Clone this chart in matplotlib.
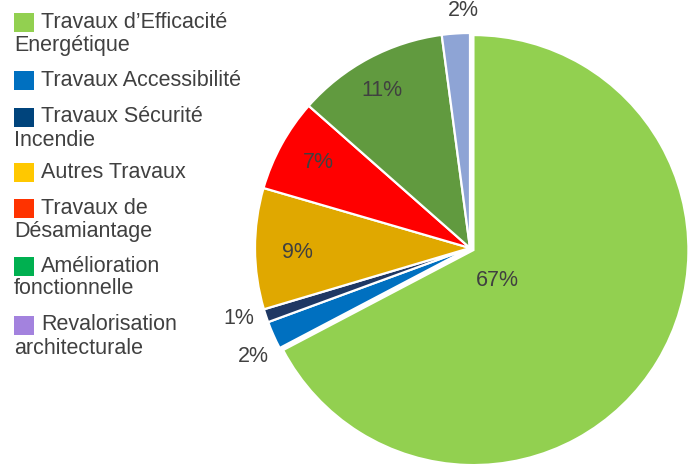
import matplotlib
matplotlib.use("Agg")
import matplotlib.pyplot as plt
from matplotlib.patches import Rectangle
import numpy as np

# ---- data ----
categories = ["Travaux d\u2019Efficacit\u00e9\nEnerg\u00e9tique", "Travaux Accessibilit\u00e9",
              "Travaux S\u00e9curit\u00e9\nIncendie", "Autres Travaux",
              "Travaux de\nD\u00e9samiantage", "Am\u00e9lioration\nfonctionnelle",
              "Revalorisation\narchitecturale"]
values = [67.3, 2.1, 1.0, 9.1, 7.0, 11.4, 2.1]
slice_colors = ["#92D050", "#0070C0", "#1F3864", "#E0A800", "#FF0000", "#619A3F", "#8EA4D5"]
legend_colors = ["#92D050", "#0070C0", "#00447C", "#FFC800", "#FF3300", "#00B050", "#A382DE"]

W, H = 688, 466
fig = plt.figure(figsize=(W / 100, H / 100), dpi=100)
ax = fig.add_axes([0, 0, 1, 1])

plt.rcParams["font.family"] = ["Liberation Sans", "DejaVu Sans"]
txt_color = "#404040"
fs = 15.5

cx, cy, R = 470, H - 248, 215
explode = [4, 0, 0, 0, 0, 0, 0]  # offset in pixel data units
wedges, _ = ax.pie(values, colors=slice_colors, startangle=90, counterclock=False,
                   radius=R, center=(cx, cy), explode=explode,
                   wedgeprops=dict(edgecolor="white", linewidth=1.6), frame=True)
ax.set_xlim(0, W)
ax.set_ylim(0, H)
ax.set_aspect("equal")
ax.axis("off")

# label placement: offsets from pie centre (pixels)
label_offsets = [(27, -32), (-217, -109), (-231, -70), (-173, -4), (-152, 85), (-88, 157), (-7, 238)]
for v, (dx, dy) in zip(values, label_offsets):
    ax.text(cx + dx, cy + dy, f"{round(v)}%", ha="center", va="center",
            fontsize=fs, color=txt_color)

# legend drawn manually (Excel-style wrapping)
line_y = [(22, 46), (80,), (117, 141), (172,), (208, 232), (266, 289), (325, 348)]
for cat, col, ys in zip(categories, legend_colors, line_y):
    lines = cat.split("\n")
    y0 = H - ys[0]
    ax.add_patch(Rectangle((14, y0 - 10), 19.5, 19.5, facecolor=col, edgecolor="none"))
    ax.text(41, y0, lines[0], ha="left", va="center", fontsize=fs, color=txt_color)
    for ln, yy in zip(lines[1:], ys[1:]):
        ax.text(14, H - yy, ln, ha="left", va="center", fontsize=fs, color=txt_color)

fig.savefig("out.png", dpi=100)
